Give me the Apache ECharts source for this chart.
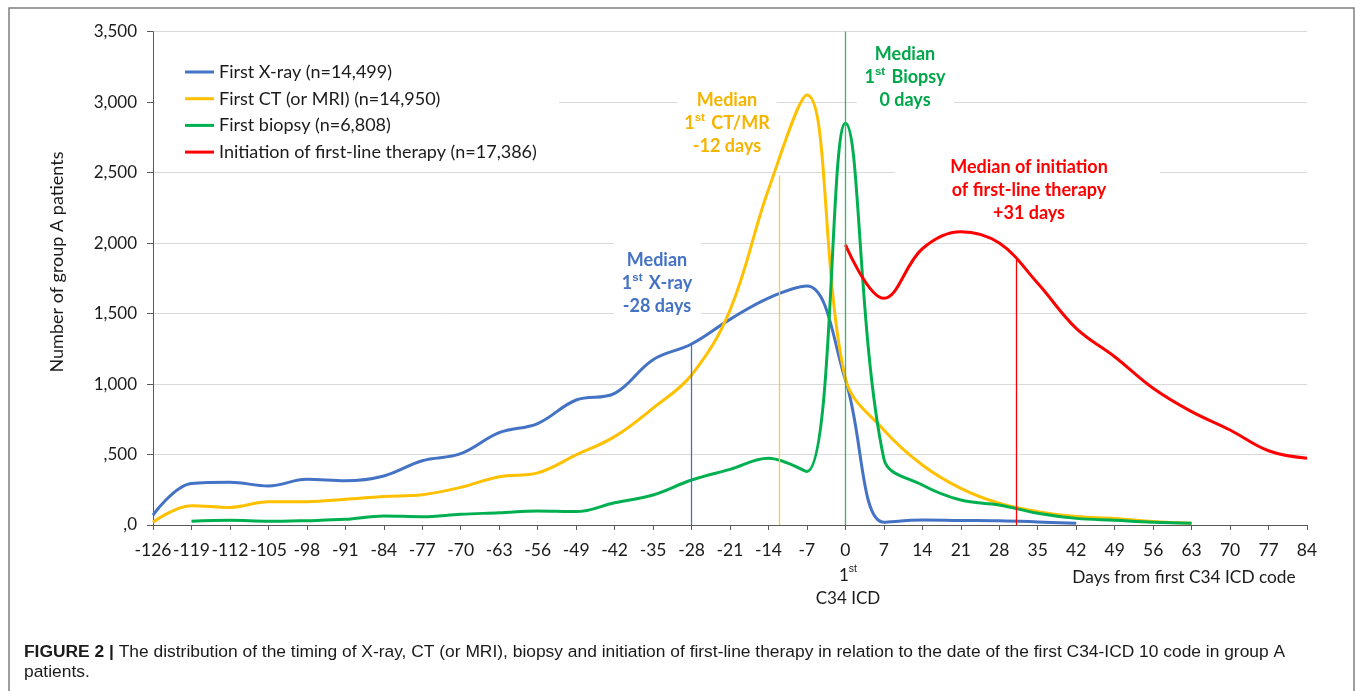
<!DOCTYPE html>
<html><head><meta charset="utf-8">
<script src="https://cdn.jsdelivr.net/npm/echarts@6/dist/echarts.min.js"></script>
<style>html,body{margin:0;padding:0;background:#fff}#c{width:1355px;height:691px}</style>
</head><body><div id="c"></div>
<script>
// ---- data (days from first C34 ICD code, 7-day steps) ----
const seriesNames = ['First X-ray (n=14,499)', 'First CT (or MRI) (n=14,950)', 'First biopsy (n=6,808)', 'Initiation of first-line therapy (n=17,386)'];
const xrayStart = -126;
const xrayValues = [70,295,303,277,324,314,348,456,506,655,720,887,934,1173,1284,1459,1610,1695,1030,20,35,32,30,22,12];
const ctStart = -126;
const ctValues = [20,137,125,165,165,182,203,215,267,343,370,497,627,829,1064,1525,2380,3050,1040,674,426,260,154,95,60,47,24,12];
const biopsyStart = -119;
const biopsyValues = [26,33,26,31,40,64,59,76,87,100,95,158,213,319,395,473,380,2850,470,284,177,142,83,47,33,19,12];
const therapyStart = 0;
const therapyValues = [1987,1608,1960,2081,2000,1715,1395,1194,970,804,674,527,473];
const stepDays = 7;
// median markers: [day, top of drop line]
const medianXray = [-28, 1284];
const medianCt = [-12, 2480];
const medianBiopsy = [0, 3500];
const medianTherapy = [31, 1880];
const xMin = -126, xMax = 84, yMin = 0, yMax = 3500, yStep = 500;

const colors = ['#4472C4', '#FFC000', '#00B050', '#FF0000'];
const FONT = 'Lato, "Open Sans", sans-serif';
const TXT = '#1a1a1a';

function toPairs(start, vals) { return vals.map((v, i) => [start + i * stepDays, v]); }
function median(m, color) {
  return {
    silent: true, symbol: ['none', 'none'], label: { show: false },
    lineStyle: { color: color, width: 1.3, type: 'solid', opacity: 1 },
    emphasis: { disabled: true },
    data: [[{ coord: [m[0], 0] }, { coord: [m[0], m[1]] }]]
  };
}
function series(i, start, vals, med, medColor) {
  return {
    name: seriesNames[i], type: 'line', smooth: 0.38, symbol: 'none',
    lineStyle: { color: colors[i], width: 3 }, itemStyle: { color: colors[i] },
    data: toPairs(start, vals), markLine: median(med, medColor), z: 3
  };
}

function box(x, y, w, h) {
  return { type: 'rect', z: 1, silent: true, shape: { x: x, y: y, width: w, height: h }, style: { fill: '#fff' } };
}
function note(x, y, text, color) {
  return {
    type: 'text', z: 2, silent: true, x: x, y: y,
    style: {
      text: text, fill: color, fontFamily: FONT, fontSize: 18, fontWeight: 'bold',
      align: 'center', verticalAlign: 'middle', lineHeight: 23,
      rich: { sup: { fontSize: 11.5, fontWeight: 'bold', fill: color, verticalAlign: 'top', lineHeight: 23, padding: [0, 2, 0, 0] } }
    }
  };
}

const chart = echarts.init(document.getElementById('c'));
chart.setOption({
  animation: false,
  backgroundColor: '#fff',
  grid: { left: 153, right: 48, top: 31.7, bottom: 166, containLabel: false },
  xAxis: {
    type: 'value', min: xMin, max: xMax, interval: stepDays,
    axisLine: { show: true, onZero: false, lineStyle: { color: '#595959', width: 1 } },
    axisTick: { show: true, length: 5, lineStyle: { color: '#595959' } },
    axisLabel: { fontFamily: FONT, fontSize: 17.5, color: TXT, margin: 16 },
    splitLine: { show: false }
  },
  yAxis: {
    type: 'value', min: yMin, max: yMax, interval: yStep,
    axisLine: { show: true, onZero: false, lineStyle: { color: '#595959', width: 1 } },
    axisTick: { show: true, length: 6, lineStyle: { color: '#595959' } },
    axisLabel: {
      fontFamily: FONT, fontSize: 17, color: TXT, margin: 16,
      formatter: v => v < 1000 ? ',' + v : Math.floor(v / 1000) + ',' + String(v % 1000).padStart(3, '0')
    },
    splitLine: { show: true, lineStyle: { color: '#d9d9d9', width: 1 } }
  },
  legend: {
    data: seriesNames, orient: 'vertical', left: 155, top: 53,
    padding: [10, 22, 10, 30], backgroundColor: '#fff',
    icon: 'rect', itemWidth: 29, itemHeight: 3, itemGap: 8.7,
    textStyle: { fontFamily: FONT, fontSize: 18, color: TXT, lineHeight: 18 },
    selectedMode: false
  },
  series: [
    series(0, xrayStart, xrayValues, medianXray, '#4472C4'),
    series(1, ctStart, ctValues, medianCt, '#FFCC33'),
    series(2, biopsyStart, biopsyValues, medianBiopsy, '#33B866'),
    series(3, therapyStart, therapyValues, medianTherapy, '#FF0000')
  ],
  graphic: [
    { type: 'rect', silent: true, z: 0, shape: { x: 9, y: 8, width: 1345, height: 700 }, style: { fill: 'none', stroke: '#7f7f7f', lineWidth: 1.5 } },
    { type: 'text', silent: true, x: 57, y: 262, rotation: Math.PI / 2,
      style: { text: 'Number of group A patients', fill: TXT, fontFamily: FONT, fontSize: 18, align: 'center', verticalAlign: 'middle' } },
    { type: 'text', silent: true, x: 848, y: 587,
      style: { text: '1{sup|st}\nC34 ICD', fill: TXT, fontFamily: FONT, fontSize: 17, align: 'center', verticalAlign: 'middle', lineHeight: 23,
        rich: { sup: { fontSize: 10.5, verticalAlign: 'top', lineHeight: 23 } } } },
    { type: 'text', silent: true, x: 1184, y: 577,
      style: { text: 'Days from first C34 ICD code', fill: TXT, fontFamily: FONT, fontSize: 17.3, align: 'center', verticalAlign: 'middle' } },
    box(614, 240, 87, 80), note(657, 283, 'Median\n1{sup|st} X-ray\n-28 days', '#4472C4'),
    box(677, 85, 100, 75), note(727, 123, 'Median\n1{sup|st} CT/MR\n-12 days', '#F5B400'),
    box(857, 38, 97, 74), note(905, 77, 'Median\n1{sup|st} Biopsy\n0 days', '#00A74A'),
    box(895, 155, 265, 67), note(1029, 190, 'Median of initiation\nof first-line therapy\n+31 days', '#FF0000'),
    { type: 'text', silent: true, x: 24, y: 642,
      style: { text: '{b|FIGURE 2 |} The distribution of the timing of X-ray, CT (or MRI), biopsy and initiation of first-line therapy in relation to the date of the first C34-ICD 10 code in group A\npatients.',
        fill: TXT, fontFamily: '"Liberation Sans", Arial, sans-serif', fontSize: 17.4, align: 'left', verticalAlign: 'top', lineHeight: 20,
        rich: { b: { fontWeight: 'bold', fontSize: 17.4, fontFamily: '"Liberation Sans", Arial, sans-serif' } } } }
  ]
});
</script></body></html>
